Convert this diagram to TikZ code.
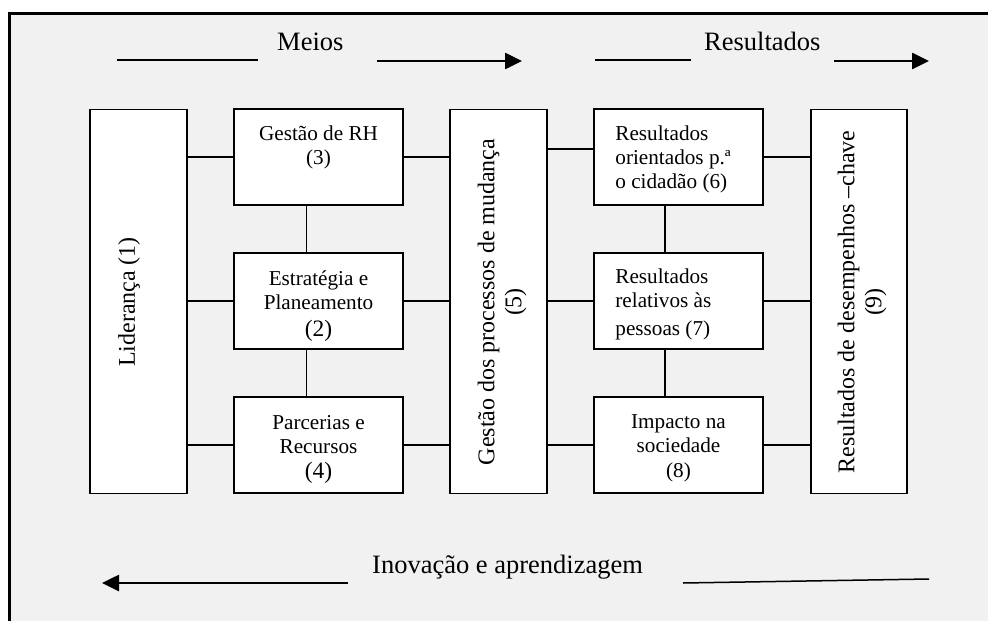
\documentclass[tikz,border=0pt]{standalone}
\usepackage{fontspec}
\setmainfont{Liberation Serif}
\usetikzlibrary{arrows.meta}
\definecolor{panel}{HTML}{F1F1F1}
\begin{document}
\begin{tikzpicture}[x=1pt,y=-1pt,
  frameline/.style={line width=3pt},
  box/.style={draw, line width=1.6pt, fill=white, inner sep=0pt},
  link/.style={line width=1.5pt},
  boxtext/.style={inner sep=0pt, align=center, font=\fontsize{21.2}{24}\selectfont},
  sidetext/.style={inner sep=0pt, align=center, rotate=90, font=\fontsize{24}{27}\selectfont},
  headtext/.style={inner sep=0pt, anchor=base west, font=\fontsize{26.5}{30}\selectfont},
  rule/.style={line width=1.5pt},
  flow/.style={line width=2.6pt, -{Triangle[length=17pt,width=16pt]}},
]
\useasboundingbox (0,0) rectangle (988,621);
\fill[white] (0,0) rectangle (988,621);
\fill[panel] (9,13) rectangle (988,621);
\draw[frameline] (9,621) -- (9,13) -- (988,13);

% boxes
\node[box, minimum width=97pt, minimum height=384pt] (lid) at (138.5,301.5) {};
\node[box, minimum width=169pt, minimum height=96pt] (rh) at (318.5,157) {};
\node[box, minimum width=169pt, minimum height=96pt] (est) at (318.5,301) {};
\node[box, minimum width=169pt, minimum height=96pt] (par) at (318.5,445) {};
\node[box, minimum width=97pt, minimum height=384pt] (proc) at (498.5,301.5) {};
\node[box, minimum width=169pt, minimum height=96pt] (r6) at (678.5,157) {};
\node[box, minimum width=169pt, minimum height=96pt] (r7) at (678.5,301) {};
\node[box, minimum width=169pt, minimum height=96pt] (r8) at (678.5,445) {};
\node[box, minimum width=96pt, minimum height=384pt] (r9) at (859,301.5) {};

% box texts
\node[sidetext] (lidtext) at (129,302) {Liderança (1)};
\node[sidetext] (proctext) at (502,302) {Gestão dos processos de mudança\\(5)};
\node[sidetext] (r9text) at (862,302) {Resultados de desempenhos –chave\\(9)};

\node[boxtext] (rhtext) at ([yshift=10pt]rh.center) {Gestão de RH\\(3)};
\node[boxtext] (esttext) at ([yshift=-5pt]est.center) {Estratégia e\\Planeamento\\[3pt]{\fontsize{23.5}{24}\selectfont(2)}};
\node[boxtext] (partext) at ([yshift=-4pt]par.center) {Parcerias e\\Recursos\\[1pt]{\fontsize{23.5}{24}\selectfont(4)}};
\node[boxtext] (r8text) at ([yshift=-3pt]r8.center) {Impacto na\\sociedade\\[1pt](8)};
\node[boxtext, align=left, anchor=west] (r6text) at ([xshift=22pt,yshift=-2pt]r6.west) {Resultados\\orientados p.ª\\o cidadão (6)};
\node[boxtext, align=left, anchor=west] (r7text) at ([xshift=22pt,yshift=-3pt]r7.west) {Resultados\\relativos às\\[4pt]pessoas (7)};

% horizontal links
\draw[link] (lid.east |- rh.west) -- (rh.west);
\draw[link] (rh.east) -- (rh.east -| proc.west);
\draw[link] (lid.east |- est.west) -- (est.west);
\draw[link] (est.east) -- (est.east -| proc.west);
\draw[link] (lid.east |- par.west) -- (par.west);
\draw[link] (par.east) -- (par.east -| proc.west);
\coordinate (r6in) at ([yshift=8pt]r6.west);
\draw[link] (r6in -| proc.east) -- (r6in);
\draw[link] (r6.east) -- (r6.east -| r9.west);
\draw[link] (proc.east |- r7.west) -- (r7.west);
\draw[link] (r7.east) -- (r7.east -| r9.west);
\draw[link] (proc.east |- r8.west) -- (r8.west);
\draw[link] (r8.east) -- (r8.east -| r9.west);

% vertical links
\coordinate (spineL) at ([xshift=-12pt]rh.south);
\draw[link] (spineL) -- (spineL |- est.north);
\draw[link] (spineL |- est.south) -- (spineL |- par.north);
\coordinate (spineR) at ([xshift=-13.5pt]r6.south);
\draw[link] (spineR) -- (spineR |- r7.north);
\draw[link] (spineR |- r7.south) -- (spineR |- r8.north);

% top headings
\node[headtext] (meios) at (277,50) {Meios};
\coordinate (m1) at (117,60); \coordinate (m2) at (258,60);
\draw[rule] (m1) -- (m2);
\coordinate (m3) at (377,61); \coordinate (m4) at (522,61);
\draw[flow] (m3) -- (m4);

\node[headtext] (result) at (704,50) {Resultados};
\coordinate (r1) at (595,60); \coordinate (r2) at (691,60);
\draw[rule] (r1) -- (r2);
\coordinate (r3) at (834,61); \coordinate (r4) at (929,61);
\draw[flow] (r3) -- (r4);

% bottom heading
\node[headtext] (inov) at (372,573) {Inovação e aprendizagem};
\coordinate (b1) at (348,583); \coordinate (b2) at (102,583);
\draw[flow] (b1) -- (b2);
\coordinate (b3) at (683,583); \coordinate (b4) at (929,579);
\draw[rule] (b3) -- (b4);
\end{tikzpicture}
\end{document}
